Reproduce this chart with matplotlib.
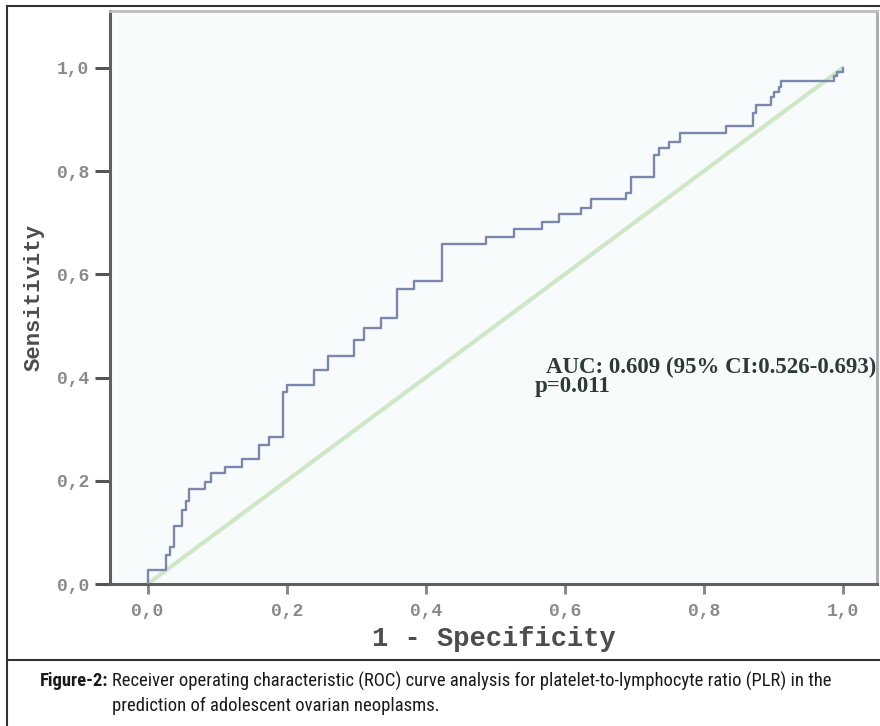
import matplotlib.pyplot as plt
from matplotlib.lines import Line2D
from matplotlib import font_manager as fm

# ROC curve corner points
fpr = [0.000, 0.000, 0.026, 0.032, 0.038, 0.050, 0.055, 0.059, 0.083, 0.091,
       0.112, 0.136, 0.160, 0.175, 0.195, 0.201, 0.239, 0.259, 0.297, 0.311,
       0.335, 0.359, 0.383, 0.424, 0.487, 0.527, 0.567, 0.592, 0.624, 0.638,
       0.688, 0.695, 0.729, 0.736, 0.750, 0.766, 0.832, 0.870, 0.875, 0.896,
       0.901, 0.908, 0.911, 0.987, 0.992, 1.000]
tpr = [0.000, 0.027, 0.056, 0.072, 0.112, 0.143, 0.161, 0.185, 0.198, 0.215,
       0.227, 0.242, 0.269, 0.285, 0.372, 0.386, 0.415, 0.442, 0.473, 0.496,
       0.515, 0.571, 0.586, 0.659, 0.672, 0.687, 0.702, 0.716, 0.729, 0.745,
       0.757, 0.788, 0.831, 0.844, 0.857, 0.873, 0.887, 0.912, 0.928, 0.944,
       0.954, 0.963, 0.974, 0.984, 0.992, 1.000]
ref_line = [0.0, 1.0]

ticks = [0.0, 0.2, 0.4, 0.6, 0.8, 1.0]
tick_labels = ['0,0', '0,2', '0,4', '0,6', '0,8', '1,0']

auc_text = 'AUC: 0.609 (95% CI:0.526-0.693)'
p_text = 'p=0.011'
caption_head = 'Figure-2:'
caption_line1 = 'Receiver operating characteristic (ROC) curve analysis for platelet-to-lymphocyte ratio (PLR) in the'
caption_line2 = 'prediction of adolescent ovarian neoplasms.'


def pick_condensed():
    # look for a narrow sans face; fall back to Roboto
    for fam, stretch in [('Liberation Sans Narrow', 'normal'), ('Roboto Condensed', 'normal'),
                         ('Noto Sans', 'condensed'), ('Open Sans', 'condensed'),
                         ('Roboto', 'condensed')]:
        try:
            path = fm.findfont(fm.FontProperties(family=fam, stretch=stretch),
                               fallback_to_default=False)
        except ValueError:
            continue
        if fam.endswith(('Narrow', 'Condensed')) or 'ondens' in path:
            return fam, stretch
    return 'Roboto', 'normal'


W, H = 880, 726
fig = plt.figure(figsize=(W / 100, H / 100), dpi=100, facecolor='white')

# plot area in pixel terms -> figure fractions
left, right, top, bottom = 110, 877, 11, 584
ax = fig.add_axes([left / W, 1 - bottom / H, (right - left) / W, (bottom - top) / H])
ax.set_facecolor('#f8fbfb')

ax.plot(ref_line, ref_line, color='#cde7c7', lw=3, solid_capstyle='butt', zorder=2)
ax.plot(fpr, tpr, drawstyle='steps-post', color='#7c87ae', lw=1.7, zorder=3)

ax.set_xlim(-0.054, 1.049)
ax.set_ylim(0, 1.11)

mono = ['Liberation Mono', 'DejaVu Sans Mono']
ax.set_xticks(ticks)
ax.set_xticklabels(tick_labels, family=mono, fontsize=13, fontweight='bold', color='#8a8a8a')
ax.set_yticks(ticks)
ax.set_yticklabels(tick_labels, family=mono, fontsize=13, fontweight='bold', color='#8a8a8a')
ax.tick_params(axis='y', length=11, width=2.2, color='#555555', pad=4)
ax.tick_params(axis='x', length=7, width=2.2, color='#8a8a8a', pad=7)

for side in ['left', 'bottom']:
    ax.spines[side].set_color('#5f5f5f')
    ax.spines[side].set_linewidth(2.2)
ax.spines['top'].set_color('#bdbdbd')
ax.spines['top'].set_linewidth(2)
ax.spines['right'].set_color('#a8a8a8')
ax.spines['right'].set_linewidth(2)

ax.set_ylabel('Sensitivity', family=mono, fontsize=16, fontweight='bold', color='#4d4d4d', labelpad=9)
ax.set_xlabel('1 - Specificity', family=mono, fontsize=19.5, fontweight='bold', color='#4d4d4d', labelpad=4)

serif = ['Liberation Serif', 'DejaVu Serif']
ax.text(0.573, 0.42, auc_text, family=serif, fontsize=16.5, fontweight='bold',
        color='#2e3a3a', ha='left', va='center')
ax.text(0.611, 0.382, p_text, family=serif, fontsize=16.5, fontweight='bold',
        color='#2e3a3a', ha='center', va='center')

# outer frame and separator above the caption
frame_kw = dict(transform=fig.transFigure, color='#333333', lw=1.5)
fig.add_artist(Line2D([7 / W, 7 / W], [0, 1 - 5.5 / H], **frame_kw))
fig.add_artist(Line2D([7 / W, 1], [1 - 5.5 / H, 1 - 5.5 / H], **frame_kw))
fig.add_artist(Line2D([7 / W, 1], [1 - 660 / H, 1 - 660 / H], **frame_kw))

cap_fam, cap_stretch = pick_condensed()
head = fig.text(32 / W, 1 - 681 / H, caption_head, family=[cap_fam, 'DejaVu Sans'],
                stretch=cap_stretch, fontsize=13, fontweight='bold',
                color='#1a1a1a', ha='left', va='center')
line1 = fig.text(112 / W, 1 - 681 / H, caption_line1, family=[cap_fam, 'DejaVu Sans'],
                 stretch=cap_stretch, fontsize=13, color='#1a1a1a', ha='left', va='center')
line2 = fig.text(112 / W, 1 - 706 / H, caption_line2, family=[cap_fam, 'DejaVu Sans'],
                 stretch=cap_stretch, fontsize=13, color='#1a1a1a', ha='left', va='center')

# scale caption size so line 1 spans the same width as in the figure (x 112..828 px)
renderer = fig.canvas.get_renderer()
w1 = line1.get_window_extent(renderer).width
scale = min(1.15, 716 / w1)
for t in (head, line1, line2):
    t.set_fontsize(13 * scale)
wh = head.get_window_extent(renderer).width
head.set_x((108 - wh) / W)

fig.savefig('out.png', dpi=100, facecolor='white')
